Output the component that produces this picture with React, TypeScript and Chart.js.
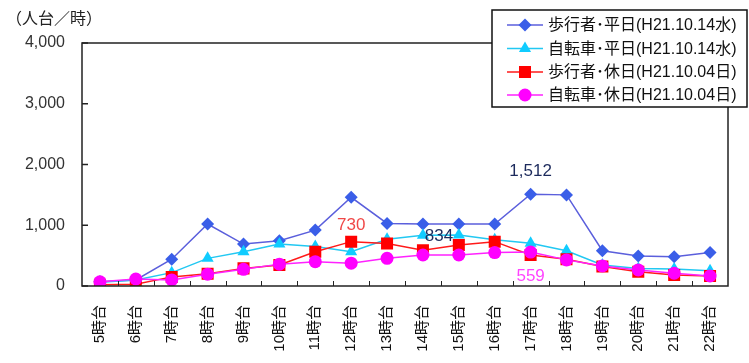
import React, { useEffect, useRef } from 'react';
import { Chart, registerables } from 'chart.js';

Chart.register(...registerables);

const categories = ['5時台', '6時台', '7時台', '8時台', '9時台', '10時台', '11時台', '12時台', '13時台', '14時台', '15時台', '16時台', '17時台', '18時台', '19時台', '20時台', '21時台', '22時台'];
const walkWeekday = [70, 100, 440, 1020, 690, 745, 920, 1460, 1030, 1020, 1020, 1020, 1512, 1500, 580, 495, 480, 550];
const bikeWeekday = [60, 100, 220, 455, 565, 690, 650, 565, 770, 834, 840, 760, 705, 580, 345, 290, 280, 250];
const walkHoliday = [20, 30, 150, 200, 290, 345, 565, 730, 700, 590, 675, 730, 510, 440, 320, 235, 180, 165];
const bikeHoliday = [70, 115, 100, 195, 275, 360, 400, 375, 455, 510, 510, 550, 559, 430, 330, 265, 210, 165];
const legendLabels = ['歩行者･平日(H21.10.14水)', '自転車･平日(H21.10.14水)', '歩行者･休日(H21.10.04日)', '自転車･休日(H21.10.04日)'];
const yTitle = '（人台／時）';
const annotations = [
  { dataset: 2, index: 7, text: '730', color: '#f04848', dx: 0, dy: -16 },
  { dataset: 1, index: 9, text: '834', color: '#1c2a5c', dx: 16, dy: 1 },
  { dataset: 0, index: 12, text: '1,512', color: '#1c2a5c', dx: 0, dy: -23 },
  { dataset: 3, index: 12, text: '559', color: '#ff44ff', dx: 0, dy: 24 },
];

const FONT = '"Liberation Sans", "Noto Sans CJK JP", sans-serif';
const JFONT = '"Noto Sans CJK JP", "Liberation Sans", sans-serif';

const styles = [
  { line: '#5b5fdc', fill: '#3a5ee8', point: 'rectRot', radius: 6.5 },
  { line: '#22c8f2', fill: '#10ccff', point: 'triangle', radius: 7 },
  { line: '#ff1a1a', fill: '#ff0000', point: 'rect', radius: 8.5 },
  { line: '#ff22ff', fill: '#ff00ff', point: 'circle', radius: 6.5 },
];

function drawMarker(ctx: CanvasRenderingContext2D, type: string, x: number, y: number, r: number) {
  ctx.beginPath();
  if (type === 'rectRot') {
    ctx.moveTo(x, y - r); ctx.lineTo(x + r, y); ctx.lineTo(x, y + r); ctx.lineTo(x - r, y); ctx.closePath();
  } else if (type === 'triangle') {
    ctx.moveTo(x, y - r); ctx.lineTo(x + r * 0.87, y + r * 0.5); ctx.lineTo(x - r * 0.87, y + r * 0.5); ctx.closePath();
  } else if (type === 'rect') {
    const s = r * Math.SQRT1_2;
    ctx.rect(x - s, y - s, 2 * s, 2 * s);
  } else {
    ctx.arc(x, y, r, 0, Math.PI * 2);
  }
  ctx.fill();
}

const decorPlugin = {
  id: 'decor',
  afterDatasetsDraw(chart: any) {
    const ctx: CanvasRenderingContext2D = chart.ctx;
    const a = chart.chartArea;
    ctx.save();
    // frame
    ctx.strokeStyle = '#222';
    ctx.lineWidth = 1.5;
    ctx.strokeRect(a.left, a.top, a.right - a.left, a.bottom - a.top);
    // y inward ticks
    const ys = chart.scales.y;
    ys.ticks.forEach((t: any) => {
      const py = ys.getPixelForValue(t.value);
      ctx.beginPath(); ctx.moveTo(a.left, py); ctx.lineTo(a.left + 6, py); ctx.stroke();
    });
    // x inward ticks at category boundaries
    const n = categories.length;
    const w = (a.right - a.left) / n;
    ctx.lineWidth = 1;
    for (let i = 1; i < n; i++) {
      const px = Math.round(a.left + w * i) + 0.5;
      ctx.beginPath(); ctx.moveTo(px, a.bottom); ctx.lineTo(px, a.bottom - 5); ctx.stroke();
    }
    // annotations
    ctx.font = '17px ' + FONT;
    ctx.textAlign = 'center';
    ctx.textBaseline = 'middle';
    annotations.forEach((an) => {
      const el = chart.getDatasetMeta(an.dataset).data[an.index];
      ctx.fillStyle = an.color;
      ctx.fillText(an.text, el.x + an.dx, el.y + an.dy);
    });
    // y title
    ctx.fillStyle = '#222';
    ctx.textAlign = 'left';
    ctx.font = '16px ' + JFONT;
    ctx.fillText(yTitle, 6, 18);
    // legend
    const lx = 492, ly = 10, lw = 255, lh = 97;
    ctx.fillStyle = '#fff';
    ctx.fillRect(lx, ly, lw, lh);
    ctx.strokeStyle = '#111';
    ctx.lineWidth = 1.5;
    ctx.strokeRect(lx, ly, lw, lh);
    const rows = [25, 48.5, 72, 95];
    legendLabels.forEach((lab, i) => {
      const st = styles[i];
      const y = rows[i];
      ctx.strokeStyle = st.line;
      ctx.lineWidth = 1.5;
      ctx.beginPath(); ctx.moveTo(507, y); ctx.lineTo(543, y); ctx.stroke();
      ctx.fillStyle = st.fill;
      drawMarker(ctx, st.point, 525, y, st.radius);
      ctx.fillStyle = '#111';
      ctx.font = '16px ' + FONT;
      ctx.textAlign = 'left';
      ctx.fillText(lab, 548, y + 1);
    });
    ctx.restore();
  },
};

export default function App() {
  const ref = useRef<HTMLCanvasElement>(null);
  useEffect(() => {
    const series = [walkWeekday, bikeWeekday, walkHoliday, bikeHoliday];
    const chart = new Chart(ref.current as HTMLCanvasElement, {
      type: 'line',
      data: {
        labels: categories,
        datasets: series.map((d, i) => ({
          label: legendLabels[i],
          data: d,
          borderColor: styles[i].line,
          backgroundColor: styles[i].fill,
          pointBackgroundColor: styles[i].fill,
          pointBorderColor: styles[i].fill,
          pointBorderWidth: 0,
          pointStyle: styles[i].point as any,
          pointRadius: styles[i].radius,
          borderWidth: 1.5,
          tension: 0,
          order: 3 - i,
        })),
      },
      options: {
        responsive: false,
        animation: false,
        devicePixelRatio: 1,
        layout: { padding: { top: 43, right: 21, left: 0, bottom: 0 } },
        plugins: { legend: { display: false }, tooltip: { enabled: false } },
        scales: {
          x: {
            type: 'category',
            offset: true,
            grid: { display: false, drawTicks: false },
            border: { display: false },
            ticks: { minRotation: 90, maxRotation: 90, padding: 19, autoSkip: false, color: '#111', font: { size: 15, family: FONT } },
            afterFit: (s: any) => { s.height = 77; },
          },
          y: {
            min: 0,
            max: 4000,
            grid: { display: false, drawTicks: false },
            border: { display: false },
            ticks: { stepSize: 1000, padding: 17, color: '#333', font: { size: 16, family: FONT } },
            afterFit: (s: any) => { s.width = 82; },
          },
        },
      } as any,
      plugins: [decorPlugin],
    });
    return () => chart.destroy();
  }, []);
  return (
    <div style={{ position: 'fixed', left: 0, top: 0, width: 749, height: 363, background: '#fff' }}>
      <canvas ref={ref} width={749} height={363} />
    </div>
  );
}
